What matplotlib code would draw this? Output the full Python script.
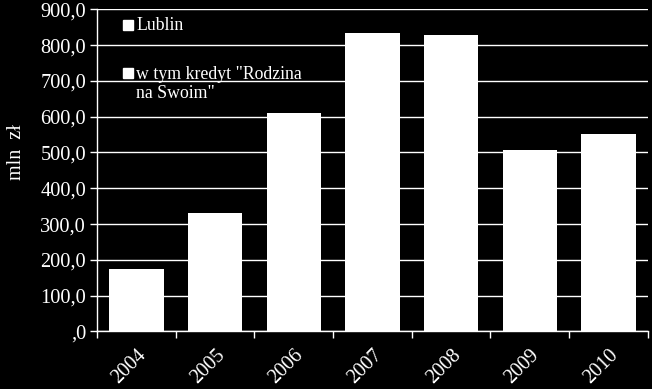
import matplotlib.pyplot as plt
import numpy as np

years = ["2004", "2005", "2006", "2007", "2008", "2009", "2010"]
lublin = [174, 331, 609, 833, 828, 506, 551]
legend_labels = ["Lublin", 'w tym kredyt "Rodzina\nna Swoim"']
yticks = [0, 100, 200, 300, 400, 500, 600, 700, 800, 900]

plt.rcParams['font.family'] = ['Liberation Serif', 'DejaVu Serif']

fig = plt.figure(figsize=(6.52, 3.89), dpi=100, facecolor="black")
ax = fig.add_axes([0.149, 0.148, 0.8445, 0.828], facecolor="black")

x = np.arange(len(years))
ax.bar(x, lublin, width=0.69, color="white", zorder=3)

ax.set_xlim(-0.5, len(years) - 0.5)
ax.set_ylim(0, 900)
ax.set_yticks(yticks)
ax.set_yticklabels([",0" if v == 0 else f"{v:.1f}".replace(".", ",") for v in yticks])
ax.yaxis.grid(True, color="white", linewidth=1, zorder=0)

# categories labelled at centres, ticks at boundaries
ax.set_xticks(x)
ax.set_xticklabels(years, rotation=45, ha="right", rotation_mode="anchor")
ax.set_xticks(np.arange(-0.5, len(years)), minor=True)
ax.tick_params(axis="x", which="major", length=0, pad=10, labelsize=14.5, colors="white")
ax.tick_params(axis="x", which="minor", length=5, width=1, color="white", direction="out")
ax.tick_params(axis="y", length=5, width=1, color="white", labelcolor="white", labelsize=14.7, pad=3)

for s in ["top", "right"]:
    ax.spines[s].set_visible(False)
for s in ["left", "bottom"]:
    ax.spines[s].set_color("white")
    ax.spines[s].set_linewidth(1)

ax.set_ylabel("mln  zł", color="white", fontsize=14.5)
ax.yaxis.set_label_coords(-0.129, 0.558)

# legend drawn by hand so the square sits on the first text line
sq_y = [0.9528, 0.8012]
txt_y = [0.9357, 0.7236]   # baseline of last line
for lab, sy, ty in zip(legend_labels, sq_y, txt_y):
    ax.plot([0.0554], [sy], marker="s", markersize=7.2, color="white",
            transform=ax.transAxes, clip_on=False, zorder=5)
    ax.text(0.0708, ty, lab, transform=ax.transAxes, color="white", fontsize=12.8,
            va="baseline", ha="left", linespacing=1.15, zorder=5)

plt.savefig("out.png", dpi=100, facecolor="black")
